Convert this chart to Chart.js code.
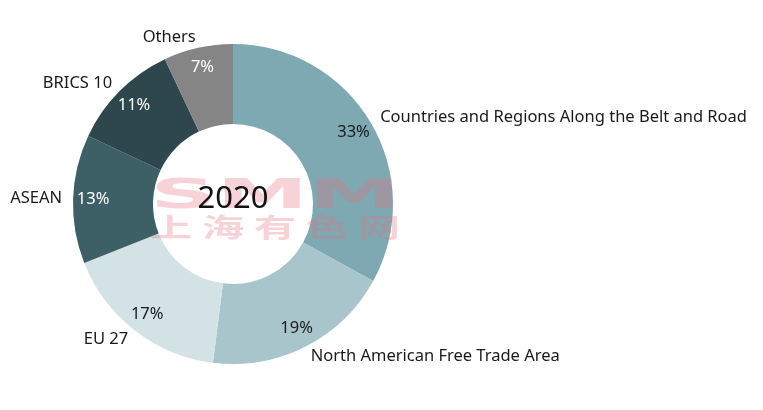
<!DOCTYPE html>
<html>
<head>
<meta charset="utf-8">
<script src="https://cdn.jsdelivr.net/npm/chart.js@4"></script>
<style>
  html, body { margin: 0; padding: 0; background: #ffffff; }
  #wrap { width: 763px; height: 410px; }
</style>
</head>
<body>
<div id="wrap"><canvas id="regionChart" width="763" height="410"></canvas></div>
<script>
const regions = ['Countries and Regions Along the Belt and Road', 'North American Free Trade Area', 'EU 27', 'ASEAN', 'BRICS 10', 'Others'];
const shares = [33, 19, 17, 13, 11, 7];
const sliceColors = ['#7ea9b2', '#a8c5cb', '#d3e2e5', '#3c6066', '#2e474c', '#858585'];
const pctColors = ['#1a1a1a', '#1a1a1a', '#1a1a1a', '#ffffff', '#ffffff', '#ffffff'];
const centerTitle = '2020';

const FONT = "'Noto Sans', Lato, sans-serif";

// draw text squeezed/stretched to a given width
function fillWide(ctx, text, x, y, width) {
    const w = ctx.measureText(text).width;
    ctx.save();
    ctx.translate(x, y);
    ctx.scale(width / w, 1);
    ctx.fillText(text, 0, 0);
    ctx.restore();
}

// percent labels inside the ring, names outside it, year in the hole
const labelPlugin = {
    id: 'labelPlugin',
    afterDatasetsDraw(chart) {
        const ctx = chart.ctx;
        const meta = chart.getDatasetMeta(0);
        const first = meta.data[0];
        const cx = first.x, cy = first.y;

        // watermark
        ctx.save();
        ctx.fillStyle = 'rgba(230, 110, 122, 0.3)';
        ctx.textAlign = 'center';
        ctx.textBaseline = 'middle';
        ctx.font = "bold 40px 'DejaVu Sans', sans-serif";
        fillWide(ctx, 'SMM', cx + 42, cy - 6, 250);
        ctx.font = "bold 26px 'Noto Sans CJK SC', sans-serif";
        fillWide(ctx, '上 海 有 色 网', cx + 42, cy + 23, 250);
        ctx.restore();

        meta.data.forEach((arc, i) => {
            const mid = (arc.startAngle + arc.endAngle) / 2;
            const cos = Math.cos(mid), sin = Math.sin(mid);

            ctx.save();
            ctx.font = '16.5px ' + FONT;
            ctx.textBaseline = 'middle';
            ctx.textAlign = 'center';
            ctx.fillStyle = pctColors[i];
            const rin = arc.outerRadius * 0.875;
            ctx.fillText(shares[i] + '%', cx + rin * cos, cy + rin * sin);

            const rout = arc.outerRadius + 11;
            ctx.fillStyle = '#1a1a1a';
            ctx.textAlign = cos >= 0 ? 'left' : 'right';
            ctx.fillText(regions[i], cx + rout * cos, cy + rout * sin);
            ctx.restore();
        });

        ctx.save();
        ctx.font = '31px ' + FONT;
        ctx.fillStyle = '#111111';
        ctx.textAlign = 'center';
        ctx.textBaseline = 'middle';
        ctx.fillText(centerTitle, cx, cy - 5);
        ctx.restore();
    }
};

new Chart('regionChart', {
    type: 'doughnut',
    data: {
        labels: regions,
        datasets: [{
            data: shares,
            backgroundColor: sliceColors,
            borderWidth: 0
        }]
    },
    options: {
        responsive: false,
        animation: false,
        cutout: '50%',
        layout: {
            padding: { left: 73, right: 370, top: 44, bottom: 46 }
        },
        plugins: {
            legend: { display: false },
            tooltip: { enabled: false }
        }
    },
    plugins: [labelPlugin]
});
</script>
</body>
</html>
